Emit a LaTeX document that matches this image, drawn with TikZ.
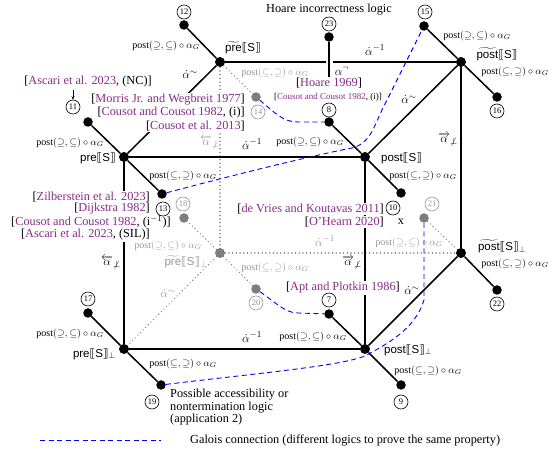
\documentclass[tikz,border=0pt]{standalone}
\usepackage{amsmath}
\usepackage{fontspec}
\setmainfont{Liberation Serif}
\setsansfont{Liberation Sans}
\newfontfamily\djv{DejaVu Sans}
\usetikzlibrary{arrows.meta}
\definecolor{citec}{RGB}{135,45,135}
\definecolor{gcol}{RGB}{150,150,150}
\definecolor{gline}{RGB}{130,130,130}
\definecolor{gdot}{RGB}{125,125,125}
\newcommand{\ct}[1]{\textcolor{citec}{#1}}
\newcommand{\pg}{post$(\supseteq,\subseteq)\circ\alpha_G$}
\newcommand{\pl}{post$(\subseteq,\supseteq)\circ\alpha_G$}
\newcommand{\lb}{{\djv ⟦}}
\newcommand{\rb}{{\djv ⟧}}
\begin{document}
\begin{tikzpicture}[x=1pt,y=-1pt,
  cedge/.style={line width=1.5pt},
  gedge/.style={line width=1.4pt, gline, dash pattern=on 0.1pt off 3.6pt, line cap=round},
  vtx/.style={circle, fill=black, inner sep=0pt, minimum size=10pt},
  gvtx/.style={vtx, fill=gdot},
  leaf/.style={circle, fill=black, inner sep=0pt, minimum size=9.5pt},
  gleaf/.style={leaf, fill=gdot},
  num/.style={circle, draw, line width=0.6pt, inner sep=0pt, minimum size=14pt, font=\fontsize{8.5}{8.5}\selectfont},
  gnum/.style={num, draw=gcol, text=gcol},
  lab/.style={font=\fontsize{10}{10}\selectfont, inner sep=0pt},
  glab/.style={lab, text=gcol},
  vlab/.style={font=\sffamily\fontsize{11.5}{12}\selectfont, inner sep=0pt},
  gvlab/.style={vlab, text=gcol},
  elab/.style={font=\fontsize{13}{13}\selectfont, inner sep=0pt},
  gelab/.style={elab, text=gcol},
  citen/.style={font=\fontsize{12.3}{13}\selectfont, fill=white, inner sep=1pt},
  galois/.style={blue, line width=0.9pt, dash pattern=on 5pt off 3.5pt},
]
\useasboundingbox (0,0) rectangle (558,454);
% cube vertices
\node[vtx]  (PT)  at (220,62) {};
\node[vtx]  (QT)  at (461,62) {};
\node[vtx]  (P)   at (124,157) {};
\node[vtx]  (Q)   at (365,157) {};
\node[gvtx] (PTB) at (220,253) {};
\node[vtx]  (QTB) at (461,253) {};
\node[vtx]  (PB)  at (124,349) {};
\node[vtx]  (QB)  at (365,349) {};
% leaves
\node[leaf]  (l12) at (184,25) {};
\node[leaf]  (l11) at (88,122) {};
\node[gleaf] (l14) at (256,97) {};
\node[leaf]  (l8)  at (329,122) {};
\node[leaf]  (l23) at (329,37) {};
\node[leaf]  (l15) at (424,26) {};
\node[leaf]  (l16) at (497,97) {};
\node[leaf]  (l13) at (162,194) {};
\node[gleaf] (l18) at (184,218) {};
\node[leaf]  (l10) at (401,193) {};
\node[gleaf] (l21) at (424,218) {};
\node[leaf]  (l22) at (497,290) {};
\node[gleaf] (l20) at (256,289) {};
\node[leaf]  (l7)  at (329,314) {};
\node[leaf]  (l17) at (88,313) {};
\node[leaf]  (l19) at (161,385) {};
\node[leaf]  (l9)  at (401,385) {};
% gray dotted edges
\draw[gedge] (PT) -- (PTB);
\draw[gedge] (PTB) -- (QTB);
\draw[gedge] (PTB) -- (PB);
\draw[gedge] (PT) -- (l14);
\draw[gedge] (PTB) -- (l18);
\draw[gedge] (PTB) -- (l20);
\draw[gedge] (QTB) -- (l21);
% black cube edges
\draw[cedge] (PT) -- (QT);
\draw[cedge] (PT) -- (P);
\draw[cedge] (P) -- (Q);
\draw[cedge] (QT) -- (Q);
\draw[cedge] (QT) -- (QTB);
\draw[cedge] (Q) -- (QB);
\draw[cedge] (P) -- (PB);
\draw[cedge] (PB) -- (QB);
\draw[cedge] (QTB) -- (QB);
% leaf edges
\draw[cedge] (PT) -- (l12);
\draw[cedge] (P) -- (l11);
\draw[cedge] (P) -- (l13);
\draw[cedge] (Q) -- (l8);
\draw[cedge] (Q) -- (l10);
\draw[cedge] (QT) -- (l15);
\draw[cedge] (QT) -- (l16);
\draw[cedge] (QTB) -- (l22);
\draw[cedge] (PB) -- (l17);
\draw[cedge] (PB) -- (l19);
\draw[cedge] (QB) -- (l7);
\draw[cedge] (QB) -- (l9);
% Galois connections
\draw[galois] (l14) .. controls (275,113) and (283,122) .. (298,122) -- (l8);
\draw[galois] (l13) .. controls (260,168) and (330,152) .. (352,148) .. controls (372,143) and (374,124) .. (386,102) -- (l15);
\draw[galois] (l20) .. controls (275,302) and (285,313) .. (298,313) -- (l7);
\draw[galois] (l19) .. controls (260,373) and (340,366) .. (365,356) .. controls (385,345) and (415,330) .. (424,300) -- (l21);
% citations
\node[citen] (title) at (329,10) {Hoare incorrectness logic};
\node[citen] (asc) at (88,82) {[\ct{Ascari et al. 2023}, (NC)]};
\node[citen, anchor=east] (c1) at (246,100) {[\ct{Morris Jr. and Wegbreit 1977}]};
\node[citen, anchor=east] (c2) at (246,113) {[\ct{Cousot and Cousot 1982}, (i)]};
\node[citen, anchor=east] (c3) at (246,126) {[\ct{Cousot et al. 2013}]};
\node[citen] (hoare) at (329,83) {[\ct{Hoare 1969}]};
\node[citen, font=\fontsize{9}{9}\selectfont, inner sep=0.5pt] (c4) at (328,97) {[\ct{Cousot and Cousot 1982}, (i)]};
\node[citen, anchor=east] (c5) at (151,197) {[\ct{Zilberstein et al. 2023}]};
\node[citen, anchor=east] (c6) at (151,209) {[\ct{Dijkstra 1982}]};
\node[citen, anchor=east] (c7) at (172,222) {[\ct{Cousot and Cousot 1982}, (i$^{-1}$)]};
\node[citen, anchor=east] (c8) at (151,235) {[\ct{Ascari et al. 2023}, (SIL)]};
\node[citen, anchor=east] (c9) at (385,209) {[\ct{de Vries and Koutavas 2011}]};
\node[citen, anchor=east] (c10) at (385,222) {[\ct{O'Hearn 2020}]};
\node[citen, fill=none] (xx) at (401,222) {x};
\node[citen, anchor=east] (c11) at (401,288) {[\ct{Apt and Plotkin 1986}]};
% connector 23 to Hoare 1969 (crossing)
\draw[white, line width=7pt, shorten <=14pt, shorten >=3pt] (l23) -- (hoare.north);
\draw[cedge] (l23) -- (hoare.north);
% vertex labels
\node[vlab] (vPT) at (243,48) {$\widetilde{\textsf{pre}}$\lb S\rb};
\node[vlab] (vQT) at (497,54) {$\widetilde{\textsf{post}}$\lb S\rb};
\node[vlab, anchor=east] (vP) at (116,158) {pre\lb S\rb};
\node[vlab, anchor=west] (vQ) at (381,158) {post\lb S\rb};
\node[gvlab] (vPTB) at (186,262) {$\widetilde{\textsf{pre}}$\lb S\rb$_\perp$};
\node[vlab] (vQTB) at (502,246) {$\widetilde{\textsf{post}}$\lb S\rb$_\perp$};
\node[vlab, anchor=east] (vPB) at (116,354) {pre\lb S\rb$_\perp$};
\node[vlab, anchor=west] (vQB) at (384,350) {post\lb S\rb$_\perp$};
% edge labels
\node[elab] (e1) at (190,75) {$\dot{\alpha}^{\sim}$};
\node[elab] (e2) at (375,50) {$\dot{\alpha}^{-1}$};
\node[elab] (e3) at (252,144) {$\dot{\alpha}^{-1}$};
\node[elab] (e4) at (409,100) {$\dot{\alpha}^{\sim}$};
\node[elab] (e5) at (342,71) {$\alpha^{\neg}$};
\node[elab] (e6) at (448,140) {$\overrightarrow{\alpha}_{\not\perp}$};
\node[elab] (e7) at (352,263) {$\overrightarrow{\alpha}_{\not\perp}$};
\node[elab] (e8) at (111,263) {$\overleftarrow{\alpha}_{\not\perp}$};
\node[gelab] (e9) at (210,143) {$\overleftarrow{\alpha}_{\not\perp}$};
\node[gelab] (e10) at (325,241) {$\dot{\alpha}^{-1}$};
\node[gelab] (e11) at (168,294) {$\dot{\alpha}^{\sim}$};
\node[elab] (e12) at (412,291) {$\dot{\alpha}^{\sim}$};
\node[elab] (e13) at (252,337) {$\dot{\alpha}^{-1}$};
% small post labels
\node[lab]  (p12) at (166,46) {\pg};
\node[lab]  (p11) at (70,143) {\pg};
\node[glab] (p14) at (275,73) {\pl};
\node[lab]  (p8)  at (310,142) {\pg};
\node[lab]  (p15) at (477,36) {\pg};
\node[lab]  (p16) at (515,72) {\pl};
\node[lab]  (p13) at (183,176) {\pl};
\node[lab]  (p10) at (423,176) {\pl};
\node[glab] (p18) at (168,246) {\pg};
\node[glab] (p20) at (275,268) {\pl};
\node[glab] (p21) at (409,243) {\pg};
\node[lab]  (p22) at (515,264) {\pl};
\node[lab]  (p7)  at (313,337) {\pg};
\node[lab]  (p17) at (70,334) {\pg};
\node[lab]  (p19) at (183,364) {\pl};
\node[lab]  (p9)  at (428,371) {\pl};
% numbers
\node[num]  (n12) at (184,12) {12};
\node[num]  (n11) at (73,107) {11};
\node[gnum] (n14) at (258,112) {14};
\node[num]  (n8)  at (329,110) {8};
\node[num]  (n23) at (329,24) {23};
\node[num]  (n15) at (425,12) {15};
\node[num]  (n16) at (497,111) {16};
\node[num]  (n13) at (163,209) {13};
\node[gnum] (n18) at (183,204) {18};
\node[num]  (n10) at (393,208) {10};
\node[gnum] (n21) at (432,204) {21};
\node[num]  (n22) at (497,304) {22};
\node[gnum] (n20) at (256,303) {20};
\node[num]  (n7)  at (329,300) {7};
\node[num]  (n17) at (88,299) {17};
\node[num]  (n19) at (152,402) {19};
\node[num]  (n9)  at (401,402) {9};
% arrow from citation to 11
\coordinate (arrtop) at (73,90);
\draw[-{Stealth[length=3.5pt,width=3pt]}, line width=0.5pt] (arrtop) -- (n11.north);
% application text
\node[anchor=north west, align=left, inner sep=0pt, font=\fontsize{12.3}{12.6}\selectfont] (app) at (170,389) {Possible accessibility or\\nontermination logic\\(application 2)};
% legend
\coordinate (lg1) at (40,440);
\coordinate (lg2) at (161,440);
\draw[galois] (lg1) -- (lg2);
\node[anchor=west, inner sep=0pt, font=\fontsize{12.3}{13}\selectfont] (legend) at (190,440) {Galois connection (different logics to prove the same property)};
\end{tikzpicture}
\end{document}
